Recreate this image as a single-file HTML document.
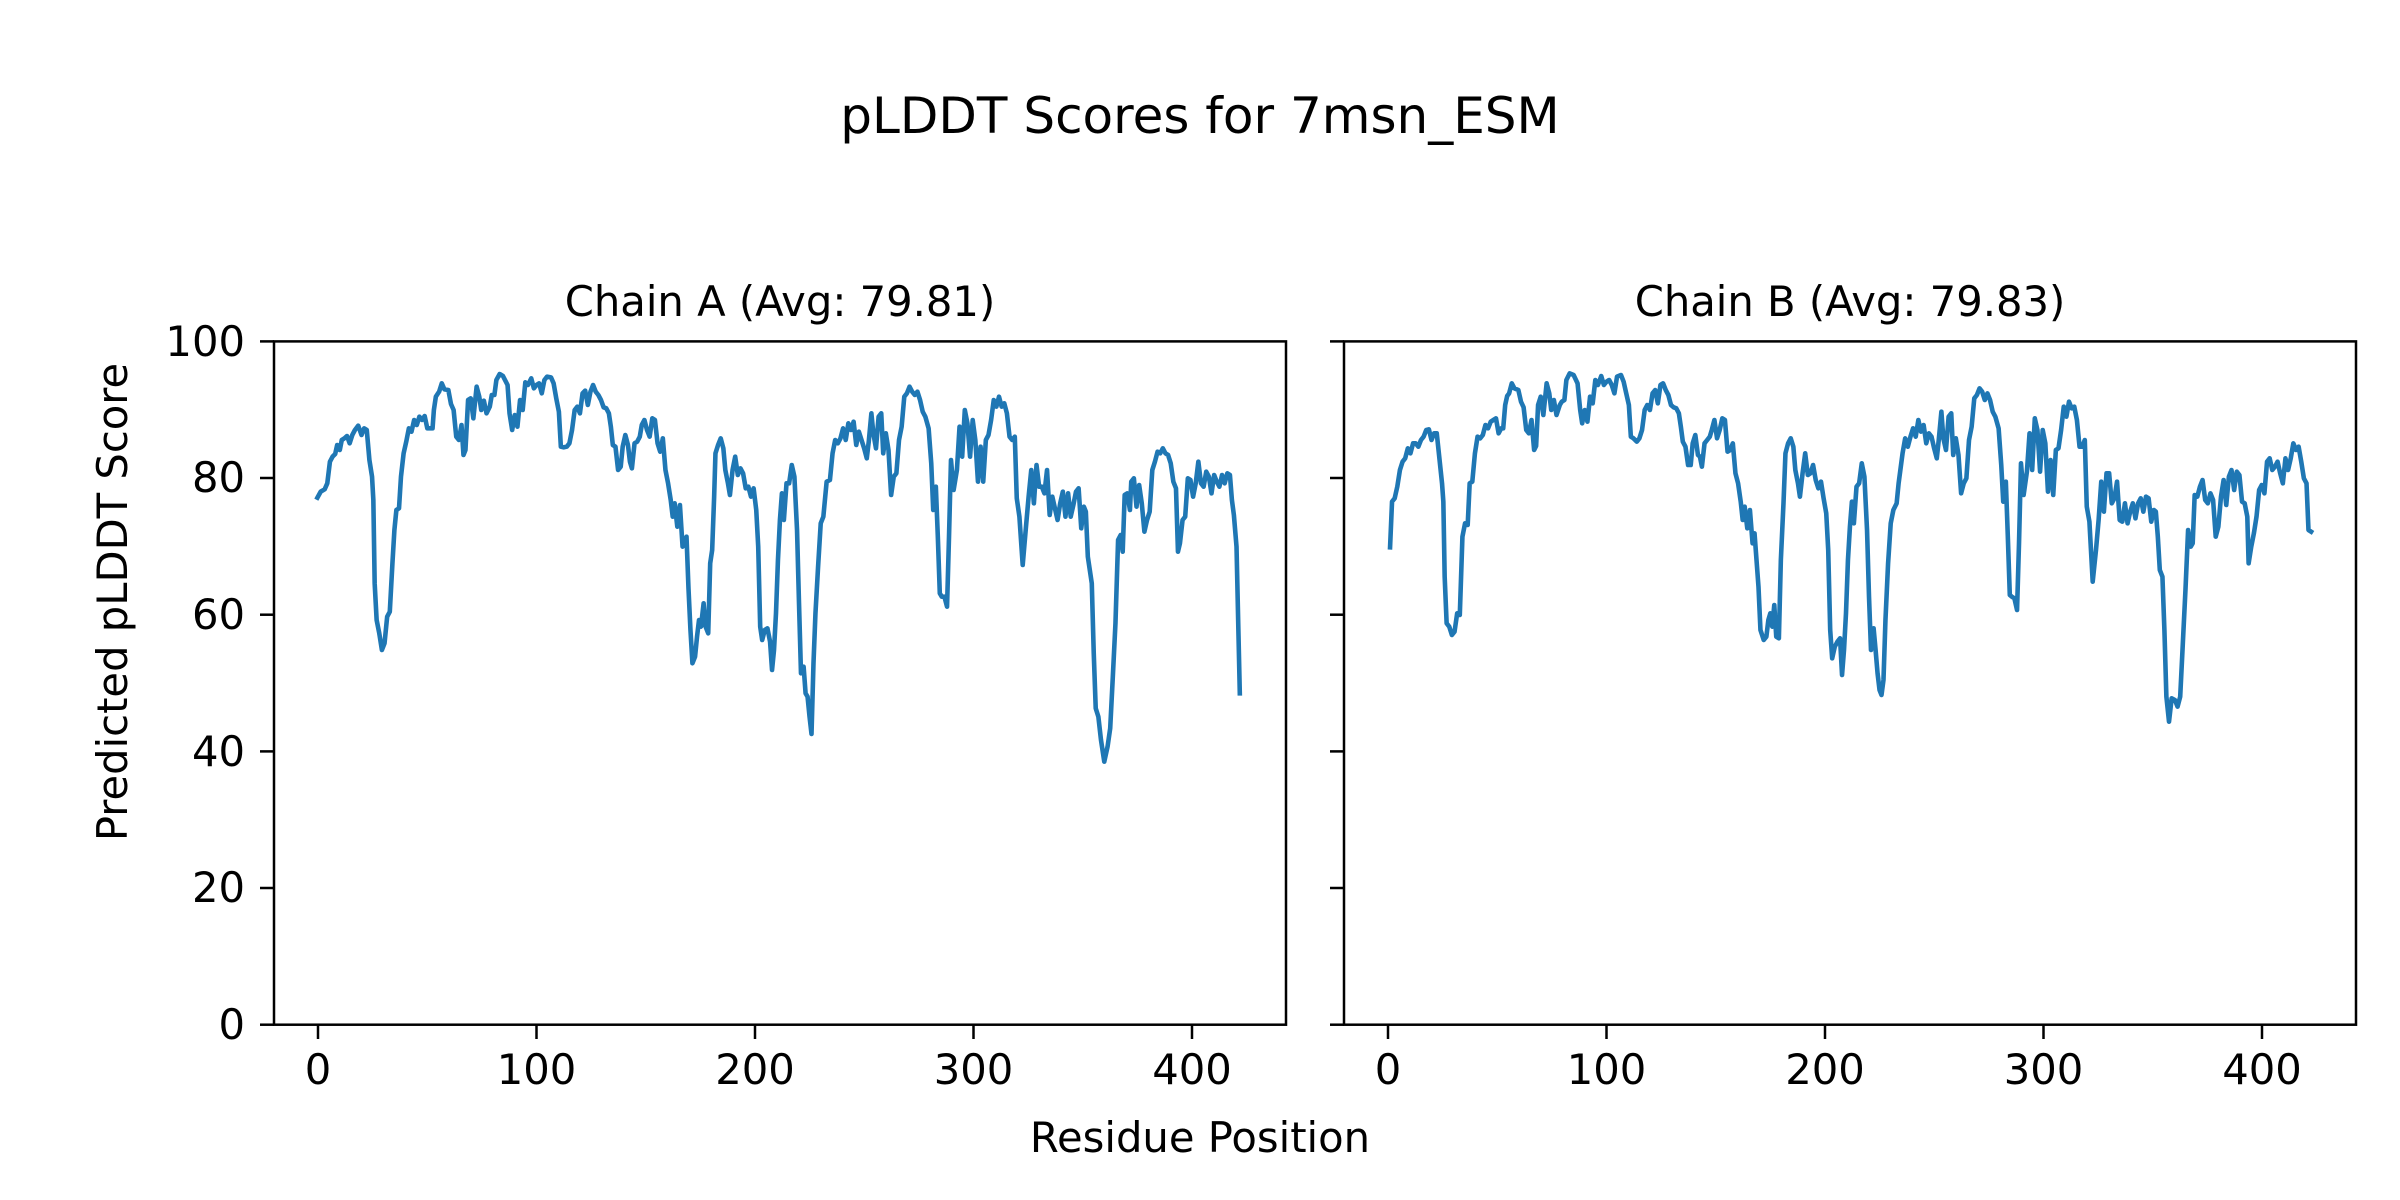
<!DOCTYPE html>
<html><head><meta charset="utf-8"><style>html,body{margin:0;padding:0;background:#fff}svg{display:block}text{font-family:"DejaVu Sans","Liberation Sans",sans-serif;fill:#000}</style></head>
<body>
<svg width="2400" height="1200" viewBox="0 0 2400 1200" xmlns="http://www.w3.org/2000/svg">
<rect width="2400" height="1200" fill="#fff"/>
<text x="1200" y="133" font-size="50" text-anchor="middle">pLDDT Scores for 7msn_ESM</text>
<text x="780" y="316" font-size="41.7" text-anchor="middle">Chain A (Avg: 79.81)</text>
<text x="1850" y="316" font-size="41.7" text-anchor="middle">Chain B (Avg: 79.83)</text>
<text x="1200" y="1152" font-size="41.7" text-anchor="middle">Residue Position</text>
<text transform="translate(127,602) rotate(-90)" font-size="41.7" text-anchor="middle">Predicted pLDDT Score</text>

<g font-size="41.7" text-anchor="end">
<text x="245" y="1039">0</text>
<text x="245" y="902">20</text>
<text x="245" y="766">40</text>
<text x="245" y="629">60</text>
<text x="245" y="492">80</text>
<text x="245" y="356">100</text>
</g>
<g stroke="#000" stroke-width="2.5">
<line x1="260" y1="1024.7" x2="274" y2="1024.7"/><line x1="260" y1="888" x2="274" y2="888"/><line x1="260" y1="751.4" x2="274" y2="751.4"/><line x1="260" y1="614.7" x2="274" y2="614.7"/><line x1="260" y1="478" x2="274" y2="478"/><line x1="260" y1="341.4" x2="274" y2="341.4"/>
<line x1="1330" y1="1024.7" x2="1344" y2="1024.7"/><line x1="1330" y1="888" x2="1344" y2="888"/><line x1="1330" y1="751.4" x2="1344" y2="751.4"/><line x1="1330" y1="614.7" x2="1344" y2="614.7"/><line x1="1330" y1="478" x2="1344" y2="478"/><line x1="1330" y1="341.4" x2="1344" y2="341.4"/>
<line x1="318" y1="1024" x2="318" y2="1039"/><line x1="536.5" y1="1024" x2="536.5" y2="1039"/><line x1="755" y1="1024" x2="755" y2="1039"/><line x1="973.5" y1="1024" x2="973.5" y2="1039"/><line x1="1192" y1="1024" x2="1192" y2="1039"/>
<line x1="1388" y1="1024" x2="1388" y2="1039"/><line x1="1606.5" y1="1024" x2="1606.5" y2="1039"/><line x1="1825" y1="1024" x2="1825" y2="1039"/><line x1="2043.5" y1="1024" x2="2043.5" y2="1039"/><line x1="2262" y1="1024" x2="2262" y2="1039"/>
</g>
<g font-size="41.7" text-anchor="middle">
<text x="318" y="1084">0</text><text x="536.5" y="1084">100</text><text x="755" y="1084">200</text><text x="973.5" y="1084">300</text><text x="1192" y="1084">400</text>
<text x="1388" y="1084">0</text><text x="1606.5" y="1084">100</text><text x="1825" y="1084">200</text><text x="2043.5" y="1084">300</text><text x="2262" y="1084">400</text>
</g>

<g transform="translate(269.4,330) scale(0.6579,0.33333)">
<polyline vector-effect="non-scaling-stroke" fill="none" stroke="#1f77b4" stroke-width="4.6" stroke-linejoin="round" stroke-linecap="square" points="73,503 78,485 84,478 88,460 92,395 96,380 100,372 103,345 107,360 110,330 114,325 118,318 122,340 126,315 130,300 135,287 140,315 144,295 148,300 152,390 156,440 158,510 160,760 163,870 167,910 171,960 175,940 179,860 183,845 187,700 190,600 193,540 197,535 200,440 204,370 208,335 212,295 216,305 220,270 224,285 228,260 232,270 236,258 240,295 244,295 248,295 250,240 253,200 258,185 262,160 266,178 272,180 276,222 280,240 284,320 288,330 292,285 295,375 298,360 302,210 306,205 310,265 315,170 319,200 322,240 326,212 330,250 335,230 338,195 342,195 345,150 350,132 355,138 362,165 365,250 369,300 373,255 377,290 381,210 385,240 389,157 393,165 398,145 402,175 406,165 410,160 414,190 418,150 422,140 428,142 432,160 436,205 440,245 443,350 447,352 452,350 456,340 460,300 464,240 468,230 472,250 476,190 480,182 484,225 488,185 492,165 496,185 500,195 504,210 508,232 512,235 516,250 519,290 522,345 526,350 530,420 534,410 537,350 541,315 545,345 548,395 551,415 555,340 559,335 563,320 566,285 570,270 574,300 578,320 582,265 586,270 590,340 594,365 598,325 602,420 606,460 610,510 613,560 616,520 620,590 624,525 628,650 631,640 634,620 637,775 640,900 643,1000 647,980 650,920 653,870 656,890 660,820 663,890 667,910 670,700 673,660 676,500 678,370 682,345 686,325 690,355 693,420 697,460 700,495 704,420 708,380 712,435 716,415 720,430 724,475 728,470 732,500 736,475 740,540 743,650 746,890 749,930 753,900 757,895 761,935 764,1020 767,960 770,850 773,690 776,570 779,490 782,570 786,460 790,460 794,405 798,440 802,600 805,820 808,1030 812,1010 815,1090 818,1100 821,1160 824,1212 827,1000 830,850 834,710 838,580 842,560 847,455 852,450 856,370 860,330 864,340 868,325 872,295 876,330 880,280 884,300 888,275 892,345 896,305 900,330 904,355 908,385 911,335 915,250 918,310 922,355 926,260 930,250 933,370 937,310 941,360 945,495 949,440 953,430 957,330 961,290 965,200 969,190 973,170 977,185 981,195 985,185 989,210 993,245 997,260 1002,295 1006,400 1009,540 1013,470 1016,620 1019,790 1022,800 1026,800 1030,830 1033,620 1036,390 1040,480 1045,420 1049,290 1053,380 1057,240 1061,280 1065,380 1069,270 1073,330 1077,455 1081,350 1085,455 1089,330 1093,315 1097,270 1101,210 1105,230 1109,200 1113,230 1117,220 1121,250 1125,320 1129,330 1133,320 1136,505 1140,560 1145,705 1150,590 1154,500 1158,420 1162,520 1166,405 1170,470 1174,470 1178,490 1182,420 1186,555 1190,500 1194,535 1198,570 1202,520 1206,485 1210,560 1214,490 1218,560 1222,525 1226,485 1230,475 1234,595 1238,530 1241,545 1244,680 1247,720 1250,760 1253,970 1256,1135 1260,1160 1264,1230 1269,1295 1274,1250 1278,1195 1282,1040 1286,880 1290,630 1294,615 1297,665 1300,495 1304,490 1308,540 1310,455 1314,445 1318,530 1322,465 1326,520 1330,605 1334,570 1338,545 1342,420 1346,395 1350,365 1354,370 1358,355 1362,370 1366,375 1370,400 1374,455 1378,475 1381,665 1384,640 1388,570 1392,560 1396,445 1400,450 1404,500 1408,460 1412,395 1416,460 1420,470 1424,425 1428,440 1432,490 1436,435 1440,455 1444,470 1448,435 1452,460 1456,430 1460,435 1463,510 1466,555 1470,650 1475,1090"/>
</g>
<g transform="translate(1339.4,330) scale(0.6579,0.33333)">
<polyline vector-effect="non-scaling-stroke" fill="none" stroke="#1f77b4" stroke-width="4.6" stroke-linejoin="round" stroke-linecap="square" points="77,652 80,515 84,505 88,470 92,420 96,395 100,385 104,355 108,370 112,340 116,340 120,350 124,330 128,320 132,300 136,298 140,330 144,310 148,310 152,385 156,460 158,515 160,740 163,880 167,890 171,915 175,905 179,850 183,855 187,620 191,580 195,585 198,460 202,455 206,370 210,320 214,325 218,315 222,285 226,295 230,275 234,270 238,265 242,310 246,295 249,295 252,225 255,198 258,190 262,160 266,175 272,180 276,215 280,232 284,300 288,310 292,270 296,360 299,348 302,225 306,200 310,255 315,160 319,190 322,240 326,210 330,255 335,225 338,215 342,210 345,150 350,130 356,135 362,160 366,240 369,280 373,240 377,275 381,200 385,220 389,150 393,165 398,138 402,165 406,155 410,150 414,165 418,190 422,140 428,135 432,155 436,190 440,225 443,320 447,325 452,335 456,325 460,300 464,240 468,225 472,240 476,190 480,180 484,220 488,165 492,160 496,180 500,195 504,225 508,232 512,235 516,250 519,290 522,335 526,350 530,405 534,405 537,340 541,315 545,375 548,380 551,410 555,340 559,330 563,320 566,300 570,270 574,325 578,300 582,265 586,270 590,365 594,360 598,340 602,430 606,460 610,515 613,570 616,530 620,595 624,540 628,640 631,610 634,690 637,770 640,900 645,930 649,920 652,870 655,850 658,890 661,825 664,920 668,925 671,690 675,520 678,370 682,340 686,325 690,350 693,420 697,460 700,500 704,430 708,370 712,435 716,430 720,405 724,450 728,475 732,455 736,505 740,550 743,660 746,900 749,985 753,950 757,935 761,925 764,1035 767,960 770,850 773,690 776,590 779,515 782,580 786,470 790,460 794,400 798,440 802,600 805,800 808,960 812,895 815,960 818,1030 821,1080 824,1095 827,1050 830,870 834,700 838,580 842,540 847,520 850,460 856,370 860,325 864,350 868,320 872,295 876,320 880,270 884,305 888,285 892,340 896,310 900,320 904,355 908,385 911,330 915,245 918,325 922,360 926,260 930,250 933,375 937,325 941,375 945,490 949,460 953,445 957,330 961,290 965,205 969,195 973,175 977,185 981,210 985,190 989,210 993,245 997,260 1002,295 1006,405 1009,515 1013,455 1016,620 1019,795 1022,800 1026,805 1030,840 1033,640 1036,400 1040,495 1045,425 1049,310 1053,420 1057,265 1061,300 1065,425 1069,300 1073,340 1077,485 1081,390 1085,495 1089,360 1093,355 1097,300 1101,230 1105,260 1109,215 1113,235 1117,230 1121,270 1125,350 1129,350 1133,330 1136,530 1140,575 1145,755 1150,660 1154,570 1158,455 1162,545 1166,430 1170,430 1174,520 1178,505 1182,455 1186,570 1190,575 1194,520 1198,580 1202,545 1206,520 1210,565 1214,520 1218,505 1222,545 1226,500 1230,505 1234,575 1238,540 1241,545 1244,620 1247,720 1251,740 1254,900 1257,1100 1261,1175 1265,1105 1270,1110 1274,1130 1278,1100 1282,940 1286,780 1290,600 1294,650 1297,640 1300,495 1304,500 1308,470 1312,450 1316,510 1320,520 1324,490 1328,510 1332,620 1336,590 1340,500 1344,450 1348,525 1352,440 1356,420 1360,480 1364,425 1368,435 1372,515 1376,520 1380,560 1382,700 1386,650 1390,610 1394,560 1398,480 1402,465 1406,490 1410,395 1414,385 1418,420 1422,410 1426,395 1430,430 1434,460 1438,385 1442,420 1446,385 1450,340 1454,360 1458,350 1462,395 1466,445 1470,460 1473,600 1477,605"/>
</g>

<rect x="274" y="341.4" width="1012" height="683.3" fill="none" stroke="#000" stroke-width="2.5"/>
<rect x="1344" y="341.4" width="1012" height="683.3" fill="none" stroke="#000" stroke-width="2.5"/>
</svg>
</body></html>
